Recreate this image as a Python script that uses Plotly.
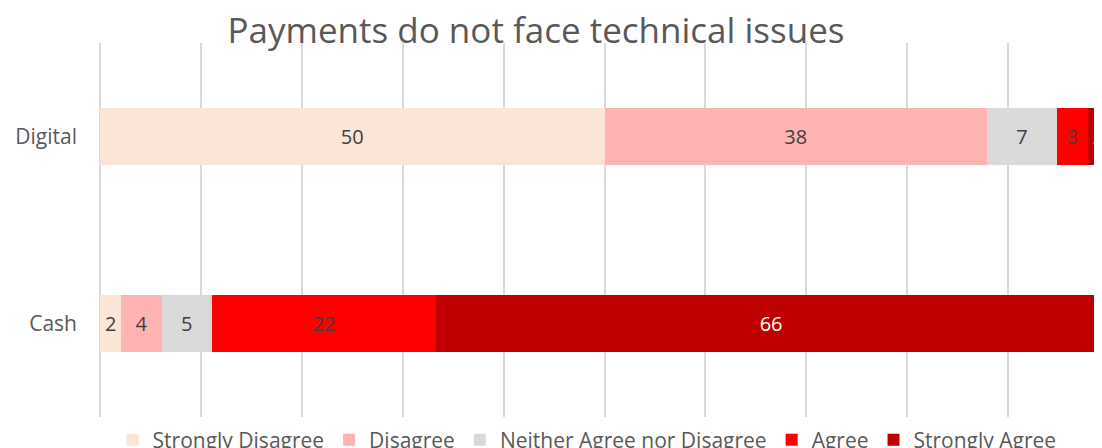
import plotly.graph_objects as go

categories = ["Cash", "Digital"]
series_names = ["Strongly Disagree", "Disagree", "Neither Agree nor Disagree", "Agree", "Strongly Agree"]
cash_values = [2.1, 4.0, 5.0, 22.2, 66.4]
digital_values = [50.0, 37.9, 6.9, 3.1, 2.1]
cash_labels = ["2", "4", "5", "22", "66"]
digital_labels = ["50", "38", "7", "3", "2"]
colors = ["#FBE5D6", "#FFB3B3", "#D9D9D9", "#FF0000", "#C00000"]
text_colors = ["#404040", "#404040", "#404040", "#404040", "#FFFFFF"]

FONT = "Open Sans"

fig = go.Figure()
for i, name in enumerate(series_names):
    fig.add_trace(go.Bar(
        name=name,
        orientation="h",
        y=categories,
        x=[cash_values[i], digital_values[i]],
        text=[cash_labels[i], digital_labels[i]],
        textposition="inside",
        insidetextanchor="middle",
        constraintext="none",
        textangle=0,
        insidetextfont=dict(family=FONT, size=20, color=text_colors[i]),
        marker=dict(color=colors[i], line=dict(width=0)),
        hoverinfo="skip",
    ))

# page body has an 8px margin; the figure is sized to the visible window area
fig.update_layout(
    width=1094,
    height=440,
    barmode="stack",
    bargap=0.69,
    plot_bgcolor="white",
    paper_bgcolor="white",
    margin=dict(l=92, r=8, t=35, b=31, pad=0, autoexpand=False),
    font=dict(family=FONT, color="#595959"),
    title=dict(
        text="Payments do not face technical issues",
        font=dict(family=FONT, size=35, color="#595959"),
        x=(536 - 8) / 1094, xref="container", xanchor="center",
        y=1 - (31 - 8) / 440, yref="container", yanchor="middle",
    ),
    xaxis=dict(
        range=[0, 98.5],
        dtick=10,
        tick0=0,
        showgrid=True,
        gridcolor="#D9D9D9",
        gridwidth=1.5,
        showticklabels=False,
        zeroline=True,
        zerolinecolor="#D9D9D9",
        zerolinewidth=2,
        showline=False,
        fixedrange=True,
    ),
    yaxis=dict(
        range=[-0.5, 1.5],
        showgrid=False,
        showline=False,
        ticks="",
        automargin=False,
        ticklabelstandoff=22,
        tickfont=dict(family=FONT, size=21, color="#595959"),
    ),
    legend=dict(
        orientation="h",
        x=0.49, xref="paper", xanchor="center",
        y=-0.007, yanchor="top",
        font=dict(family=FONT, size=21, color="#595959"),
        traceorder="normal",
        itemwidth=30,
        bgcolor="rgba(0,0,0,0)",
    ),
    showlegend=True,
)

fig.write_html("out.html")
